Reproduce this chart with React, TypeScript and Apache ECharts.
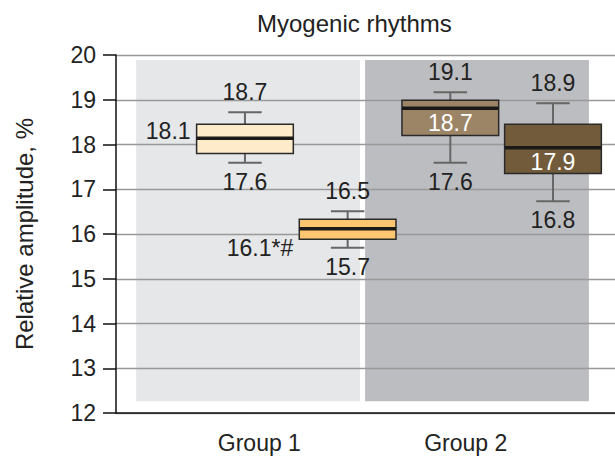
import React, { useEffect, useRef } from 'react';
import * as echarts from 'echarts';

// ---- data ----
const boxSlots = [1, 2, 3, 4];
const boxMin = [17.59, 15.69, 17.59, 16.73];
const boxQ1 = [17.8, 15.88, 18.2, 17.35];
const boxMedian = [18.14, 16.12, 18.81, 17.93];
const boxQ3 = [18.45, 16.33, 18.99, 18.45];
const boxMax = [18.72, 16.51, 19.17, 18.92];
const maxLabels = ['18.7', '16.5', '19.1', '18.9'];
const minLabels = ['17.6', '15.7', '17.6', '16.8'];
const medianLabels = ['18.1', '16.1*#', '18.7', '17.9'];
const groupNames = ['Group 1', 'Group 2'];

// ---- styles / layout ----
const FONT = "'Liberation Sans', Arial, sans-serif";
const boxFills = ['#fdebc9', '#fec670', '#9c8467', '#725b3b'];
const medianLabelPlacement = ['left-up', 'left-down', 'inside', 'inside'];
const groupLabelValues = [1.14, 3.15];
const panelX = [
  [-0.06, 2.12],
  [2.17, 4.35],
];
const panelY = [12.26, 19.89];
const panelFills = ['#e6e7e9', '#bcbdc0'];

export default function App() {
  const ref = useRef<HTMLDivElement>(null);

  useEffect(() => {
    if (!ref.current) return;
    const chart = echarts.init(ref.current, undefined, { renderer: 'svg' });

    const boxData = boxSlots.map((s, i) => [s, boxMin[i], boxQ1[i], boxMedian[i], boxQ3[i], boxMax[i]]);

    const option: any = {
      animation: false,
      title: {
        text: 'Myogenic rhythms',
        left: 257,
        top: 11,
        padding: 0,
        textStyle: { fontSize: 24, fontWeight: 'normal', color: '#222', fontFamily: FONT },
      },
      grid: { left: 116, right: 0, top: 55, bottom: 45 },
      xAxis: {
        type: 'value',
        min: -0.256,
        max: 4.604,
        axisLine: { show: true, onZero: false, lineStyle: { color: '#111', width: 1.5 } },
        axisTick: { show: false },
        splitLine: { show: false },
        axisLabel: {
          customValues: groupLabelValues,
          formatter: (v: number) => {
            const idx = groupLabelValues.findIndex((g) => Math.abs(g - v) < 1e-6);
            return idx >= 0 ? groupNames[idx] : '';
          },
          margin: 18,
          fontSize: 23,
          color: '#222',
          fontFamily: FONT,
        },
      },
      yAxis: {
        type: 'value',
        min: 12,
        max: 20,
        interval: 1,
        name: 'Relative amplitude, %',
        nameLocation: 'middle',
        nameGap: 80,
        nameTextStyle: { fontSize: 24, color: '#222', fontFamily: FONT },
        axisLine: { show: true, onZero: false, lineStyle: { color: '#111', width: 1.5 } },
        axisTick: { show: true, length: 13, lineStyle: { color: '#111', width: 1.5 } },
        axisLabel: { margin: 20, fontSize: 23, color: '#222', fontFamily: FONT },
        splitLine: { show: true, lineStyle: { color: '#999', width: 1.3 } },
      },
      series: [
        {
          type: 'custom',
          z: -1,
          silent: true,
          data: panelFills.map((_, i) => [i]),
          encode: { x: [], y: [] },
          renderItem: (params: any, api: any) => {
            const i = params.dataIndex;
            const p0 = api.coord([panelX[i][0], panelY[1]]);
            const p1 = api.coord([panelX[i][1], panelY[0]]);
            return {
              type: 'rect',
              shape: { x: p0[0], y: p0[1], width: p1[0] - p0[0], height: p1[1] - p0[1] },
              style: { fill: panelFills[i] },
            };
          },
        },
        {
          type: 'custom',
          data: boxData,
          encode: { x: 0, y: [1, 2, 3, 4, 5] },
          renderItem: (params: any, api: any) => {
            const i = params.dataIndex;
            const x = api.value(0);
            const cx = api.coord([x, api.value(1)])[0];
            const yMin = api.coord([x, api.value(1)])[1];
            const yQ1 = api.coord([x, api.value(2)])[1];
            const yMed = api.coord([x, api.value(3)])[1];
            const yQ3 = api.coord([x, api.value(4)])[1];
            const yMax = api.coord([x, api.value(5)])[1];
            const unit = api.size([1, 0])[0];
            const halfW = unit * 0.471;
            const capHalf = unit * 0.163;
            const whisk = { stroke: '#666', lineWidth: 2 };
            const txt = (text: string, tx: number, ty: number, align: string, fill: string) => ({
              type: 'text',
              style: {
                text,
                x: tx,
                y: ty,
                align,
                verticalAlign: 'middle',
                fill,
                fontSize: 23,
                fontFamily: FONT,
              },
            });
            const place = medianLabelPlacement[i];
            let medText;
            if (place === 'left-up') {
              medText = txt(medianLabels[i], cx - halfW - 6, yMed - 7, 'right', '#222');
            } else if (place === 'left-down') {
              medText = txt(medianLabels[i], cx - halfW - 6, yMed + 19.5, 'right', '#222');
            } else {
              medText = txt(medianLabels[i], cx, (yMed + yQ1) / 2 + 1, 'center', '#fff');
            }
            return {
              type: 'group',
              children: [
                { type: 'line', shape: { x1: cx, y1: yMax, x2: cx, y2: yQ3 }, style: whisk },
                { type: 'line', shape: { x1: cx, y1: yQ1, x2: cx, y2: yMin }, style: whisk },
                { type: 'line', shape: { x1: cx - capHalf, y1: yMax, x2: cx + capHalf, y2: yMax }, style: whisk },
                { type: 'line', shape: { x1: cx - capHalf, y1: yMin, x2: cx + capHalf, y2: yMin }, style: whisk },
                {
                  type: 'rect',
                  shape: { x: cx - halfW, y: yQ3, width: 2 * halfW, height: yQ1 - yQ3 },
                  style: { fill: boxFills[i], stroke: '#2a2a2a', lineWidth: 1.5 },
                },
                {
                  type: 'line',
                  shape: { x1: cx - halfW, y1: yMed, x2: cx + halfW, y2: yMed },
                  style: { stroke: '#1c1a18', lineWidth: 3.5 },
                },
                txt(maxLabels[i], cx, yMax - 20, 'center', '#222'),
                txt(minLabels[i], cx, yMin + 19, 'center', '#222'),
                medText,
              ],
            };
          },
        },
      ],
    };

    chart.setOption(option);
    return () => chart.dispose();
  }, []);

  return <div ref={ref} style={{ position: 'absolute', left: 0, top: 0, width: 615, height: 458 }} />;
}
